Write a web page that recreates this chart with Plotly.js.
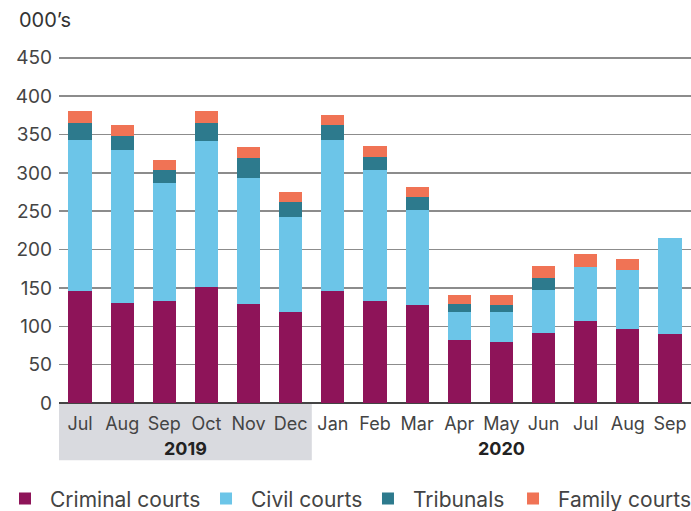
<!DOCTYPE html>
<html>
<head>
<meta charset="utf-8">
<script src="https://cdn.plot.ly/plotly-3.0.1.min.js"></script>
<style>html,body{margin:0;padding:0;background:#fff;}#chart{width:691px;height:511px;}</style>
</head>
<body>
<div id="chart"></div>
<script>
// Data (thousands)
const months = ['Jul','Aug','Sep','Oct','Nov','Dec','Jan','Feb','Mar','Apr','May','Jun','Jul','Aug','Sep'];
const years = ['2019','2020'];
const criminal = [146,130,133,151,129,119,146,133,128,82,80,91,107,96,90];
const civil    = [197,200,154,190,164,123,197,171,124,37,39,56,70,77,125];
const tribunals= [22,18,17,24,26,20,19,17,17,10,9,16,0,0,0];
const family   = [16,14,13,16,15,13,14,14,13,12,13,16,17,15,0];
const seriesNames = ['Criminal courts','Civil courts','Tribunals','Family courts'];

const xIdx = months.map((m,i)=>i);
const colors = ['#8e1459','#6cc5e8','#2d7a8d','#f07355'];
const vals = [criminal, civil, tribunals, family];
const legendIds = ['legend','legend2','legend3','legend4'];
const legendX = [0, 0.2909, 0.5253, 0.7352];

const traces = vals.map((v,k)=>({
  type:'bar', x:xIdx, y:v, name:seriesNames[k], legend:legendIds[k],
  marker:{color:colors[k], line:{width:0}},
  hoverinfo:'skip'
}));

const FONT = 'Inter, "Noto Sans", sans-serif';
const layout = {
  width:691, height:511,
  margin:{l:59, r:0, t:54, b:108, pad:0},
  paper_bgcolor:'#fff', plot_bgcolor:'#fff',
  barmode:'stack', bargap:0.45,
  font:{family:FONT, size:18, color:'#444'},
  showlegend:true,
  xaxis:{
    range:[-0.5,14.5], tickmode:'array', tickvals:xIdx, ticktext:months,
    showgrid:false, zeroline:false, showline:false, ticks:'', fixedrange:true,
    ticklabelstandoff:8,
    tickfont:{family:FONT, size:18, color:'#444'}
  },
  yaxis:{
    range:[0,455], tickvals:[0,50,100,150,200,250,300,350,400,450],
    showgrid:true, gridcolor:'#8c8c8c', gridwidth:1.5,
    zeroline:true, zerolinecolor:'#444', zerolinewidth:1.5,
    showline:false, ticks:'', ticklabelstandoff:6,
    tickfont:{family:FONT, size:19, color:'#444'}, fixedrange:true
  },
  shapes:[{type:'rect', xref:'x', yref:'paper', x0:-0.5, x1:5.5, y0:-0.164, y1:-0.002,
           fillcolor:'#d9dadf', line:{width:0}, layer:'below'}],
  annotations:[
    {text:'000’s', xref:'paper', yref:'paper', x:-0.066, y:1.097, xanchor:'left', yanchor:'middle',
     showarrow:false, font:{family:FONT, size:20, color:'#333'}},
    {text:'<b>'+years[0]+'</b>', xref:'x', yref:'paper', x:2.5, y:-0.131, xanchor:'center', yanchor:'middle',
     showarrow:false, font:{family:FONT, size:18, color:'#222'}},
    {text:'<b>'+years[1]+'</b>', xref:'x', yref:'paper', x:10, y:-0.131, xanchor:'center', yanchor:'middle',
     showarrow:false, font:{family:FONT, size:18, color:'#222'}}
  ]
};
legendIds.forEach((id,k)=>{
  layout[id] = {orientation:'h', x:legendX[k], xref:'container', xanchor:'left',
                y:0.024, yref:'container', yanchor:'middle', itemwidth:40,
                font:{family:FONT, size:21, color:'#444'}, itemclick:false, bgcolor:'rgba(0,0,0,0)'};
});
Plotly.newPlot('chart', traces, layout, {displayModeBar:false, staticPlot:true});
</script>
</body>
</html>
